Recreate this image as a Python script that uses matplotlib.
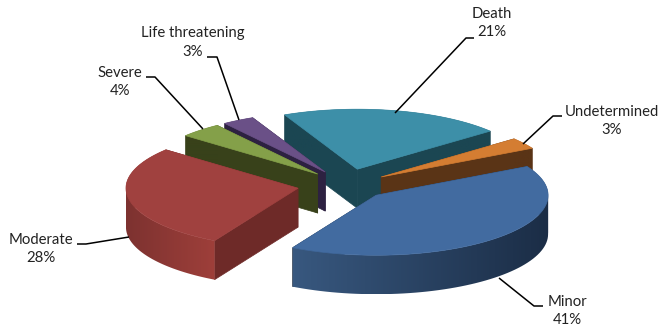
import numpy as np
from matplotlib import pyplot as plt
from matplotlib.colors import LinearSegmentedColormap
from matplotlib.patches import Polygon

# Pie data, clockwise from Death
names = ['Death', 'Undetermined', 'Minor', 'Moderate', 'Severe', 'Life threatening']
values = [21, 3, 41, 28, 4, 3]

# Colours: top, flat side, curved side at left and at right
top_colors = ['#3D8FA8', '#D47D32', '#426BA0', '#A0413F', '#84A049', '#6A5087']
side_colors = ['#1B4652', '#5A3416', '#1B2D46', '#6E2A28', '#38411A', '#2D2141']
arc_left = ['#1B4652', '#5A3416', '#38587F', '#7D3230', '#38411A', '#2D2141']
arc_right = ['#1B4652', '#5A3416', '#1B2D46', '#9E3F3A', '#38411A', '#2D2141']
draw_order = [0, 1, 5, 4, 3, 2]

# Fake 3D geometry, in pixels
cx, cy = 347, 185
rx, ry = 172, 60
explode = [0.27, 0.24, 0.24, 0.29, 0.25, 0.25]
depth = 39
start_angle = -25.0

# Leader lines and label centres for each slice
leaders = [
    [(395, 113), (466, 38), (474, 38)],
    [(523, 144), (553, 116), (562, 116)],
    [(499, 278), (534, 306), (543, 306)],
    [(129, 237), (86, 244), (77, 244)],
    [(203, 129), (155, 77), (146, 77)],
    [(239, 120), (217, 57), (207, 57)],
]
label_pos = [(492, 23), (612, 121), (567, 311), (41, 249), (120, 82), (193, 42.5)]

plt.rcParams['font.family'] = ['Lato', 'DejaVu Sans']

fig = plt.figure(figsize=(6.61, 3.29), dpi=100)
ax = fig.add_axes([0, 0, 1, 1])
ax.axis('off')


def project(angle):
    '''
    Angle in degrees clockwise from north, to a point on the squashed circle
    '''
    a = np.radians(angle)
    return np.sin(a) * rx, -np.cos(a) * ry


angles = start_angle + np.cumsum([0] + values) * 360 / sum(values)

for order, i in enumerate(draw_order):
    z = 1 + order * 0.1
    a0, a1 = angles[i], angles[i + 1]
    dx, dy = project((a0 + a1) / 2)
    apex_x, apex_y = cx + explode[i] * dx, cy + explode[i] * dy

    arc = np.linspace(a0, a1, max(int(a1 - a0), 4))
    ex, ey = project(arc)
    ex = ex + apex_x
    ey = ey + apex_y

    # flat faces from the apex to both ends of the arc
    for x_end, y_end in [(ex[0], ey[0]), (ex[-1], ey[-1])]:
        ax.fill([apex_x, x_end, x_end, apex_x],
                [apex_y, y_end, y_end + depth, apex_y + depth],
                color=side_colors[i], lw=0.5, zorder=z)

    # curved side: a horizontal gradient clipped to the extruded arc,
    # split where the arc turns back so the clip polygon never folds
    cuts = [a0] + [c for c in (90, 270) if a0 < c < a1] + [a1]
    cmap = LinearSegmentedColormap.from_list('arc', [arc_left[i], arc_right[i]])
    for c0, c1 in zip(cuts[:-1], cuts[1:]):
        px, py = project(np.linspace(c0, c1, 60))
        px = px + apex_x
        py = py + apex_y
        side = Polygon(np.c_[np.r_[px, px[::-1]], np.r_[py, py[::-1] + depth]],
                       transform=ax.transData, fc='none', ec='none')
        ax.add_patch(side)
        img = ax.imshow(np.linspace(0, 1, 128).reshape(1, -1), cmap=cmap, aspect='auto',
                        extent=(ex.min(), ex.max(), (ey + depth).max(), ey.min()), zorder=z)
        img.set_clip_path(side)

    ax.fill(np.r_[apex_x, ex], np.r_[apex_y, ey], color=top_colors[i], lw=0.5, zorder=z)

for i in range(len(names)):
    xs, ys = zip(*leaders[i])
    ax.plot(xs, ys, color='black', lw=1.1, zorder=3, solid_capstyle='butt')
    ax.text(label_pos[i][0], label_pos[i][1], '{}\n{}%'.format(names[i], values[i]),
            ha='center', va='center', ma='center', fontsize=10.7, color='#222222',
            linespacing=1.4, zorder=4)

ax.set_xlim(0, 661)
ax.set_ylim(329, 0)

fig.savefig('out.png', dpi=100)
